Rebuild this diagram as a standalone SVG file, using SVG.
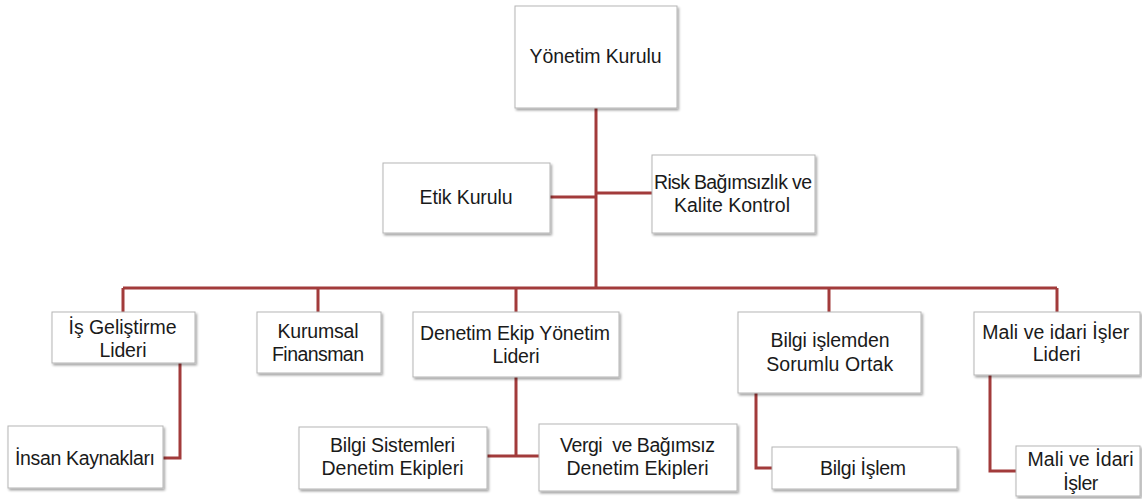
<svg xmlns="http://www.w3.org/2000/svg" width="1142" height="499" viewBox="0 0 1142 499">
<defs>
<filter id="sh" x="-10%" y="-10%" width="125%" height="130%">
<feDropShadow dx="1.5" dy="2" stdDeviation="1.2" flood-color="#000" flood-opacity="0.35"/>
</filter>
</defs>
<style>
.box{fill:#fff;stroke:#B5B5B5;stroke-width:1;filter:url(#sh)}
.t{font-family:"Liberation Sans",Arial,sans-serif;font-size:19.5px;fill:#1a1a1a;text-anchor:middle;white-space:pre}
.c{fill:none;stroke:#A23B3B;stroke-width:3}
</style>
<rect width="1142" height="499" fill="#fff"/>
<g id="connectors">
<path class="c" d="M596,108V288"/>
<path class="c" d="M550,197H596"/>
<path class="c" d="M596,193H652"/>
<path class="c" d="M123,288H1057"/>
<path class="c" d="M123,288V312M318,288V312M516,288V312M829,288V312M1057,288V312"/>
<path class="c" d="M180,363V458H163"/>
<path class="c" d="M516,377V456M487,456H539"/>
<path class="c" d="M756,393V468H772"/>
<path class="c" d="M990,375V471H1016"/>
</g>
<g id="yonetim"><rect class="box" x="515" y="6" width="162" height="102"/><text class="t" x="595.5" y="63" textLength="132">Yönetim Kurulu</text></g>
<g id="etik"><rect class="box" x="383" y="163" width="167" height="70"/><text class="t" x="466" y="204" textLength="93">Etik Kurulu</text></g>
<g id="risk"><rect class="box" x="652" y="155" width="163" height="78"/><text class="t" x="733" y="189" textLength="158">Risk Bağımsızlık ve</text><text class="t" x="732" y="211.5" textLength="116">Kalite Kontrol</text></g>
<g id="isgelistirme"><rect class="box" x="52" y="312" width="143" height="51"/><text class="t" x="122.5" y="333.5" textLength="108">İş Geliştirme</text><text class="t" x="123" y="356.5" textLength="47">Lideri</text></g>
<g id="kurumsal"><rect class="box" x="257" y="312" width="124" height="61"/><text class="t" x="318" y="337.5" textLength="81">Kurumsal</text><text class="t" x="318" y="360.5" textLength="92">Finansman</text></g>
<g id="denetim"><rect class="box" x="413" y="312" width="206" height="65"/><text class="t" x="515" y="339.5" textLength="190">Denetim Ekip Yönetim</text><text class="t" x="516" y="362.5" textLength="47">Lideri</text></g>
<g id="bilgiislemden"><rect class="box" x="738" y="312" width="183" height="81"/><text class="t" x="830" y="347" textLength="119">Bilgi işlemden</text><text class="t" x="829.7" y="370.5" textLength="127">Sorumlu Ortak</text></g>
<g id="malilideri"><rect class="box" x="974" y="312" width="166" height="63"/><text class="t" x="1055.8" y="338.5" textLength="147">Mali ve idari İşler</text><text class="t" x="1056.7" y="361" textLength="48">Lideri</text></g>
<g id="insan"><rect class="box" x="8" y="426" width="155" height="62"/><text class="t" x="85" y="464.5" textLength="140">İnsan Kaynakları</text></g>
<g id="bilgisistemleri"><rect class="box" x="299" y="427" width="188" height="62"/><text class="t" x="392.5" y="451.5" textLength="125">Bilgi Sistemleri</text><text class="t" x="392.5" y="475" textLength="142">Denetim Ekipleri</text></g>
<g id="vergi"><rect class="box" x="539" y="424" width="198" height="67"/><text class="t" x="637.5" y="451.5" textLength="155">Vergi  ve Bağımsız</text><text class="t" x="637.5" y="475" textLength="142">Denetim Ekipleri</text></g>
<g id="bilgiislem"><rect class="box" x="772" y="447" width="185" height="42"/><text class="t" x="863" y="474.5" textLength="86">Bilgi İşlem</text></g>
<g id="maliidari"><rect class="box" x="1016" y="446" width="124" height="50"/><text class="t" x="1080.5" y="466" textLength="106">Mali ve İdari</text><text class="t" x="1080.8" y="489.5" textLength="35">İşler</text></g>
</svg>
